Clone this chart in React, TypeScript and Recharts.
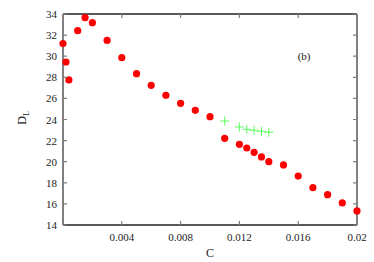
import {
  ScatterChart,
  Scatter,
  XAxis,
  YAxis,
  ReferenceLine,
  ReferenceDot,
} from "recharts";

// concentration C and D_L
const redC = [
  0, 0.0002, 0.0004, 0.001, 0.0015, 0.002, 0.003, 0.004, 0.005, 0.006, 0.007,
  0.008, 0.009, 0.01, 0.011, 0.012, 0.0125, 0.013, 0.0135, 0.014, 0.015, 0.016,
  0.017, 0.018, 0.019, 0.02,
];
const redD = [
  31.2, 29.45, 27.75, 32.42, 33.65, 33.18, 31.5, 29.86, 28.34, 27.24, 26.29,
  25.53, 24.87, 24.27, 22.22, 21.65, 21.3, 20.89, 20.45, 20.0, 19.69, 18.64,
  17.54, 16.87, 16.09, 15.33,
];
const greenC = [0.011, 0.012, 0.0125, 0.013, 0.0135, 0.014];
const greenD = [23.86, 23.29, 23.07, 22.98, 22.88, 22.79];

const xTicks = [0.004, 0.008, 0.012, 0.016, 0.02];
const yTicks = [14, 16, 18, 20, 22, 24, 26, 28, 30, 32, 34];

const redData = redC.map((c, i) => ({ c, d: redD[i] }));
const greenData = greenC.map((c, i) => ({ c, d: greenD[i] }));

const W = 374;
const H = 262;
const XH = 30;
const M = { top: 14, right: 17, bottom: 37 - XH, left: 0 };
const YW = 63;
const L = YW;
const R = W - M.right;
const T = M.top;
const B = H - 37;
const FONT = "'Liberation Serif', 'DejaVu Serif', serif";
const FRAME = "#222222";
const SIDE = "#808080";

function XTick(props: any) {
  const { x, payload } = props;
  return (
    <g>
      <path d={`M${x},${B}V${B - 4}M${x},${T}V${T + 4}`} stroke={SIDE} strokeWidth={1.2} fill="none" />
      <text x={x} y={B + 16} textAnchor="middle" fontFamily={FONT} fontSize={11} fill="#222">
        {String(payload.value)}
      </text>
    </g>
  );
}

function YTick(props: any) {
  const { y, payload } = props;
  return (
    <g>
      <path d={`M${L},${y}H${L + 4}M${R},${y}H${R - 4}`} stroke={SIDE} strokeWidth={1.2} fill="none" />
      <text x={L - 6} y={y + 4} textAnchor="end" fontFamily={FONT} fontSize={11} fill="#222">
        {payload.value}
      </text>
    </g>
  );
}

const Dot = (props: any) => <circle cx={props.cx} cy={props.cy} r={3.6} fill="#ff0000" />;

const Cross = (props: any) => {
  const { cx, cy } = props;
  return (
    <g stroke="#5cff5c" strokeWidth={1}>
      <line x1={cx - 4.5} x2={cx + 4.5} y1={cy} y2={cy} />
      <line x1={cx} x2={cx} y1={cy - 4.5} y2={cy + 4.5} />
    </g>
  );
};

export default function App() {
  return (
    <div style={{ position: "absolute", left: 0, top: 0, background: "#fff" }}>
      <ScatterChart width={W} height={H} margin={M}>
        <XAxis
          type="number"
          dataKey="c"
          domain={[0, 0.02]}
          ticks={xTicks}
          tick={<XTick />}
          tickSize={0}
          height={XH}
          axisLine={{ stroke: FRAME, strokeWidth: 1.5 }}
          interval={0}
          label={{
            content: () => (
              <text x={210} y={257} textAnchor="middle" fontFamily={FONT} fontSize={12} fill="#222">
                C
              </text>
            ),
          }}
        />
        <YAxis
          type="number"
          dataKey="d"
          domain={[14, 34]}
          ticks={yTicks}
          tick={<YTick />}
          tickSize={0}
          axisLine={{ stroke: SIDE, strokeWidth: 2 }}
          width={YW}
          interval={0}
          label={{
            content: () => (
              <text
                x={26}
                y={118}
                transform="rotate(-90 26 118)"
                textAnchor="middle"
                fontFamily={FONT}
                fontSize={12}
                fill="#222"
              >
                D<tspan dy={3} fontSize={8}>L</tspan>
              </text>
            ),
          }}
        />
        <ReferenceLine y={34} stroke={FRAME} strokeWidth={1.5} />
        <ReferenceLine x={0.02} stroke={SIDE} strokeWidth={2} />
        <ReferenceDot
          x={0.0164}
          y={30.0}
          r={0}
          fill="none"
          stroke="none"
          label={{
            value: "(b)",
            position: "center",
            style: { fontFamily: FONT, fontSize: 11, fill: "#222" },
          }}
        />
        <Scatter data={redData} shape={Dot} isAnimationActive={false} />
        <Scatter data={greenData} shape={Cross} isAnimationActive={false} />
      </ScatterChart>
    </div>
  );
}
